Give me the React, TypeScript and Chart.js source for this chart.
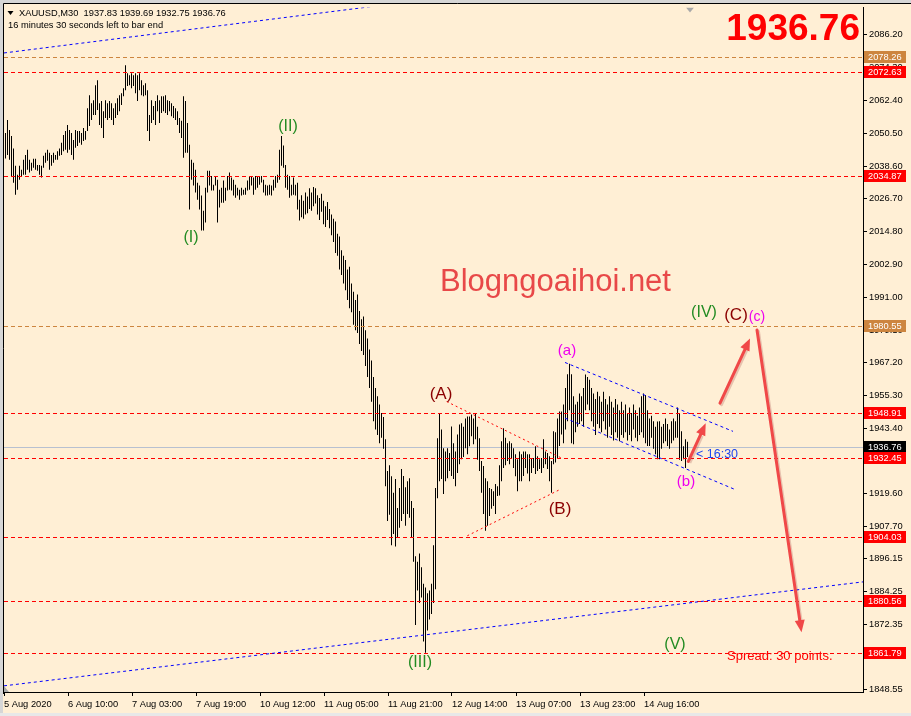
import React, { useEffect, useRef } from 'react';
import { Chart, registerables } from 'chart.js';
Chart.register(...registerables);

// ---- bar data (M30 highs / lows) ----
const HIGHS = [
  2050.6, 2055.3, 2051.7, 2049.5, 2045.0, 2038.7, 2035.4, 2038.7, 2037.2, 2040.9,
  2042.6, 2044.5, 2040.9, 2039.8, 2041.2, 2041.2, 2039.0, 2039.0, 2038.7, 2042.3,
  2043.4, 2044.5, 2043.4, 2042.6, 2043.4, 2042.6, 2044.0, 2045.0, 2047.0, 2049.9,
  2051.3, 2053.5, 2051.7, 2050.6, 2048.0, 2051.7, 2051.3, 2051.3, 2050.6, 2052.4,
  2051.3, 2059.6, 2064.3, 2061.4, 2062.5, 2067.9, 2069.7, 2061.4, 2062.2, 2058.5,
  2062.5, 2061.4, 2062.2, 2061.4, 2059.6, 2061.4, 2063.2, 2064.3, 2065.0, 2066.8,
  2075.2, 2072.3, 2071.5, 2072.3, 2071.5, 2072.3, 2071.5, 2072.3, 2069.7, 2067.9,
  2068.6, 2066.1, 2057.1, 2062.5, 2060.4, 2062.2, 2064.3, 2062.5, 2063.9, 2063.9,
  2064.3, 2062.5, 2062.2, 2061.4, 2060.4, 2059.6, 2058.5, 2056.0, 2055.0, 2063.9,
  2062.2, 2054.2, 2046.3, 2040.9, 2039.8, 2037.2, 2032.5, 2031.5, 2027.9, 2022.4,
  2030.7, 2036.9, 2036.9, 2035.0, 2031.8, 2035.0, 2033.6, 2030.0, 2030.7, 2033.3,
  2030.7, 2035.0, 2036.2, 2034.4, 2033.6, 2031.8, 2030.7, 2030.0, 2030.7, 2030.0,
  2030.7, 2033.3, 2035.0, 2035.0, 2034.4, 2035.0, 2035.0, 2035.0, 2035.0, 2033.6,
  2031.8, 2031.5, 2031.8, 2031.5, 2033.6, 2035.0, 2035.4, 2044.5, 2049.5, 2046.0,
  2039.0, 2035.4, 2035.0, 2031.8, 2034.4, 2031.8, 2032.5, 2026.4, 2028.0, 2026.0,
  2029.0, 2027.5, 2030.5, 2029.0, 2031.0, 2030.5, 2028.0, 2027.0, 2028.5, 2026.0,
  2024.0, 2025.5, 2023.0, 2021.0, 2019.5, 2018.5, 2014.0, 2013.0, 2008.0, 2006.0,
  2004.5, 2001.0, 2002.0, 1996.0, 1993.0, 1990.0, 1992.0, 1986.0, 1983.0, 1984.0,
  1979.0, 1976.0, 1972.0, 1968.0, 1962.0, 1958.0, 1955.0, 1952.0, 1949.0, 1947.5,
  1939.4, 1927.9, 1930.0, 1926.0, 1920.0, 1925.0, 1914.5, 1921.7, 1928.6, 1926.1,
  1922.0, 1924.2, 1925.3, 1917.0, 1914.5, 1897.0, 1895.0, 1898.0, 1893.0, 1887.0,
  1885.6, 1883.5, 1884.5, 1887.0, 1901.0, 1921.7, 1939.8, 1948.8, 1943.0, 1936.2,
  1935.0, 1936.2, 1934.4, 1944.1, 1938.0, 1935.0, 1941.2, 1944.8, 1945.2, 1944.0,
  1947.0, 1947.7, 1947.7, 1948.4, 1947.0, 1948.8, 1944.0, 1939.8, 1931.5, 1929.7,
  1925.3, 1924.2, 1921.7, 1921.4, 1920.6, 1923.2, 1922.4, 1930.0, 1938.7, 1943.4,
  1940.0, 1938.0, 1938.7, 1938.0, 1936.2, 1934.0, 1932.2, 1935.0, 1934.0, 1935.0,
  1935.0, 1934.0, 1934.0, 1932.6, 1932.6, 1936.9, 1933.3, 1932.2, 1932.6, 1939.4,
  1935.0, 1934.4, 1933.3, 1931.5, 1942.3, 1942.0, 1947.0, 1949.5, 1949.5, 1952.0,
  1958.0, 1963.0, 1966.8, 1963.0, 1955.0, 1952.0, 1953.0, 1956.0, 1955.0, 1958.0,
  1962.9, 1962.0, 1961.0, 1958.0, 1956.0, 1954.0, 1956.7, 1955.0, 1953.0, 1956.7,
  1954.0, 1952.0, 1955.0, 1953.0, 1951.0, 1954.0, 1952.0, 1950.0, 1953.0, 1950.0,
  1952.0, 1949.0, 1951.0, 1949.0, 1952.0, 1950.0, 1948.0, 1951.0, 1955.0, 1956.0,
  1955.5, 1950.0, 1947.0, 1948.0, 1946.0, 1944.0, 1945.9, 1946.0, 1944.0, 1945.0,
  1947.0, 1945.0, 1943.0, 1946.0, 1947.0, 1946.0, 1951.0, 1949.0, 1942.3, 1936.9,
  1939.4, 1938.5,
];
const LOWS = [
  2041.3, 2042.6, 2040.9, 2035.0, 2032.5, 2028.2, 2030.0, 2033.6, 2034.7, 2035.4,
  2035.4, 2037.2, 2036.2, 2036.9, 2038.0, 2037.2, 2036.9, 2035.4, 2034.4, 2038.0,
  2039.8, 2040.5, 2037.2, 2038.7, 2039.8, 2040.9, 2040.9, 2042.3, 2042.6, 2044.0,
  2044.5, 2043.4, 2044.5, 2042.6, 2040.9, 2045.2, 2045.9, 2047.0, 2046.3, 2047.7,
  2048.1, 2051.3, 2053.1, 2055.3, 2057.1, 2057.1, 2058.9, 2053.5, 2052.4, 2048.8,
  2056.0, 2055.3, 2056.0, 2055.3, 2053.5, 2056.0, 2057.1, 2058.5, 2060.7, 2063.9,
  2066.1, 2067.6, 2067.9, 2066.8, 2067.6, 2065.0, 2062.2, 2066.1, 2064.3, 2063.9,
  2064.3, 2051.3, 2047.7, 2054.2, 2055.3, 2053.5, 2058.5, 2054.2, 2057.8, 2058.5,
  2057.8, 2057.1, 2058.5, 2056.7, 2056.0, 2055.3, 2053.5, 2050.6, 2048.8, 2041.6,
  2043.4, 2043.4, 2022.8, 2033.6, 2031.5, 2029.0, 2026.4, 2022.8, 2015.2, 2015.2,
  2018.1, 2029.0, 2031.5, 2029.7, 2029.7, 2031.5, 2018.1, 2023.5, 2025.3, 2025.3,
  2026.0, 2029.7, 2030.0, 2029.7, 2027.9, 2027.1, 2027.9, 2026.4, 2027.9, 2028.2,
  2028.2, 2029.7, 2030.0, 2031.5, 2028.2, 2030.0, 2030.7, 2031.8, 2032.6, 2029.0,
  2027.9, 2027.9, 2028.2, 2027.9, 2029.7, 2030.7, 2032.5, 2033.6, 2038.7, 2038.0,
  2030.7, 2030.0, 2027.1, 2027.9, 2028.2, 2027.9, 2022.8, 2018.8, 2020.0, 2019.5,
  2021.0, 2021.5, 2023.0, 2022.4, 2024.0, 2025.0, 2021.0, 2019.0, 2022.0, 2017.5,
  2016.5, 2019.0, 2016.0, 2013.5, 2011.0, 2007.0, 2006.0, 2001.0, 1999.0, 1996.0,
  1993.5, 1990.0, 1987.0, 1985.5, 1981.0, 1979.0, 1978.0, 1974.0, 1971.5, 1970.0,
  1966.0, 1962.0, 1958.0, 1953.0, 1946.0, 1943.0, 1941.0, 1938.0, 1940.0, 1936.0,
  1922.4, 1909.8, 1912.0, 1901.0, 1905.0, 1900.5, 1903.7, 1907.3, 1909.8, 1912.3,
  1908.0, 1912.3, 1910.9, 1903.7, 1895.0, 1872.0, 1884.5, 1880.0, 1882.0, 1866.0,
  1861.9, 1870.0, 1874.0, 1876.0, 1880.0, 1885.0, 1918.0, 1924.2, 1925.0, 1919.6,
  1924.2, 1925.3, 1927.9, 1926.1, 1925.0, 1922.4, 1927.2, 1930.4, 1932.2, 1933.0,
  1936.2, 1934.0, 1936.9, 1940.5, 1937.6, 1939.4, 1932.0, 1927.9, 1920.0, 1912.3,
  1906.2, 1908.0, 1911.6, 1914.2, 1915.2, 1912.3, 1918.8, 1919.0, 1924.2, 1929.0,
  1930.0, 1931.5, 1930.4, 1932.6, 1929.0, 1926.0, 1920.6, 1924.2, 1924.2, 1926.1,
  1929.0, 1927.0, 1924.2, 1927.2, 1929.0, 1926.8, 1927.9, 1928.6, 1927.2, 1929.0,
  1930.4, 1928.6, 1924.2, 1920.0, 1930.4, 1931.0, 1932.6, 1937.0, 1941.2, 1938.0,
  1943.0, 1946.0, 1950.0, 1938.0, 1937.6, 1942.0, 1944.0, 1945.0, 1946.0, 1944.0,
  1950.0, 1952.0, 1950.0, 1946.0, 1944.0, 1941.0, 1945.0, 1943.4, 1942.0, 1946.0,
  1943.0, 1940.0, 1944.0, 1941.0, 1939.0, 1942.0, 1940.0, 1938.7, 1941.0, 1940.0,
  1942.0, 1939.0, 1941.0, 1938.7, 1943.0, 1940.0, 1938.7, 1941.0, 1942.0, 1940.0,
  1938.0, 1937.0, 1937.0, 1940.0, 1936.0, 1934.0, 1932.2, 1932.2, 1936.0, 1938.0,
  1938.7, 1937.0, 1936.0, 1938.0, 1939.0, 1940.0, 1940.0, 1932.0, 1931.5, 1932.2,
  1929.0, 1933.0,
];

// ---- axes ----
const X_TICK_BARS = [0, 32, 64, 96, 128, 160, 192, 224, 256, 288, 320];
const X_TICK_LABELS = [
  '5 Aug 2020', '6 Aug 10:00', '7 Aug 03:00', '7 Aug 19:00', '10 Aug 12:00', '11 Aug 05:00',
  '11 Aug 21:00', '12 Aug 14:00', '13 Aug 07:00', '13 Aug 23:00', '14 Aug 16:00',
];
const Y_TICKS = [
  2086.2, 2074.3, 2062.4, 2050.5, 2038.6, 2026.7, 2014.8, 2002.9, 1991.0, 1979.1, 1967.2,
  1955.3, 1943.4, 1931.5, 1919.6, 1907.7, 1896.15, 1884.25, 1872.35, 1860.45, 1848.55,
];
const PRICE_MIN = 1847.7;
const PRICE_MAX = 2096.1;
const SLOT_MIN = -0.75;
const SLOT_MAX = 428.75;

// ---- horizontal levels ----
const LEVELS = [2078.26, 2072.63, 2034.87, 1980.55, 1948.91, 1932.45, 1904.03, 1880.56, 1861.79];
const LEVEL_COLORS = ['#CD853F', '#FF0000', '#FF0000', '#CD853F', '#FF0000', '#FF0000', '#FF0000', '#FF0000', '#FF0000'];
const CURRENT_PRICE = 1936.76;
const HEADER_LINE1 = 'XAUUSD,M30  1937.83 1939.69 1932.75 1936.76';
const HEADER_LINE2 = '16 minutes 30 seconds left to bar end';

// ---- drawn objects: [bar1, price1, bar2, price2] ----
const BLUE_RAYS = [
  [0, 2079.7, 178, 2096.0],
  [0, 1850.0, 428, 1887.6],
];
const BLUE_SEGMENTS = [
  [279.75, 1967.3, 363.75, 1942.3],
  [279.75, 1947.1, 364.75, 1921.2],
];
const RED_SEGMENTS = [
  [220.6, 1953.1, 278.6, 1932.4],
  [230.9, 1904.4, 277.25, 1921.2],
];
const ARROWS = [
  [341.4, 1931.4, 350.1, 1945.2],
  [357.25, 1952.5, 372.25, 1976.0],
  [375.75, 1979.1, 398.0, 1869.4],
];
const WAVE_TEXT = ['(I)', '(II)', '(III)', '(IV)', '(V)', '(A)', '(B)', '(C)', '(a)', '(b)', '(c)'];
const WAVE_BAR = [92.75, 141.25, 207.25, 349.25, 334.75, 217.75, 277.25, 365.25, 280.75, 340.25, 375.75];
const WAVE_PRICE = [2012.7, 2052.8, 1858.5, 1985.3, 1865.0, 1955.7, 1914.1, 1984.5, 1971.5, 1923.9, 1983.8];
const WAVE_COLOR = ['#228B22', '#228B22', '#228B22', '#228B22', '#228B22', '#8B0000', '#8B0000', '#8B0000', '#EE00EE', '#EE00EE', '#EE00EE'];
const WAVE_SIZE = [16, 16, 16, 16, 16, 17, 17, 17, 15, 15, 14];
const WATERMARK = { text: 'Blogngoaihoi.net', bar: 217.25, price: 1996.5 };
const TIMER = { text: '< 16:30', bar: 345.25, price: 1934.0 };
const SPREAD = { text: 'Spread: 30 points.', bar: 360.75, price: 1860.7 };

const SMALL_FONT = '9.3px "Liberation Sans", Arial, sans-serif';

const overlay = {
  id: 'mt4overlay',
  beforeDraw(chart: any) {
    const { ctx, width, height } = chart;
    ctx.save();
    ctx.fillStyle = '#FFEFD5';
    ctx.fillRect(0, 0, width, height);
    ctx.fillStyle = '#D6D6D6';
    ctx.fillRect(0, 0, width, 3);
    ctx.fillRect(0, 0, 3, height);
    ctx.fillStyle = '#E8E8E8';
    ctx.fillRect(0, height - 3, width, 3);
    ctx.restore();
  },
  beforeDatasetsDraw(chart: any) {
    const { ctx, chartArea } = chart;
    const y = chart.scales.y;
    const py = Math.round(y.getPixelForValue(CURRENT_PRICE)) + 0.5;
    ctx.save();
    ctx.strokeStyle = '#B8C0D0';
    ctx.lineWidth = 1;
    ctx.beginPath();
    ctx.moveTo(chartArea.left, py);
    ctx.lineTo(chartArea.right, py);
    ctx.stroke();
    ctx.restore();
  },
  afterDatasetsDraw(chart: any) {
    const { ctx, chartArea } = chart;
    const xs = chart.scales.x;
    const ys = chart.scales.y;
    const X = (v: number) => xs.getPixelForValue(v);
    const Y = (v: number) => ys.getPixelForValue(v);
    ctx.save();
    ctx.beginPath();
    ctx.rect(chartArea.left, chartArea.top, chartArea.right - chartArea.left, chartArea.bottom - chartArea.top);
    ctx.clip();

    // horizontal levels
    ctx.lineWidth = 1;
    ctx.setLineDash([4, 3]);
    LEVELS.forEach((p, k) => {
      const py = Math.round(Y(p)) + 0.5;
      ctx.strokeStyle = LEVEL_COLORS[k];
      ctx.beginPath();
      ctx.moveTo(chartArea.left, py);
      ctx.lineTo(chartArea.right, py);
      ctx.stroke();
    });

    // blue rays (extended across the chart)
    ctx.strokeStyle = '#0000FF';
    ctx.setLineDash([3, 3]);
    BLUE_RAYS.forEach(([b1, p1, b2, p2]) => {
      const x1 = X(b1), y1 = Y(p1), x2 = X(b2), y2 = Y(p2);
      const slope = (y2 - y1) / (x2 - x1);
      const xa = chartArea.left, xb = chartArea.right;
      ctx.beginPath();
      ctx.moveTo(xa, y1 + (xa - x1) * slope);
      ctx.lineTo(xb, y1 + (xb - x1) * slope);
      ctx.stroke();
    });
    BLUE_SEGMENTS.forEach(([b1, p1, b2, p2]) => {
      ctx.beginPath();
      ctx.moveTo(X(b1), Y(p1));
      ctx.lineTo(X(b2), Y(p2));
      ctx.stroke();
    });
    ctx.strokeStyle = '#FF0000';
    ctx.setLineDash([2, 3]);
    RED_SEGMENTS.forEach(([b1, p1, b2, p2]) => {
      ctx.beginPath();
      ctx.moveTo(X(b1), Y(p1));
      ctx.lineTo(X(b2), Y(p2));
      ctx.stroke();
    });
    ctx.setLineDash([]);

    // arrows
    ARROWS.forEach(([b1, p1, b2, p2]) => {
      const x1 = X(b1), y1 = Y(p1), x2 = X(b2), y2 = Y(p2);
      const ang = Math.atan2(y2 - y1, x2 - x1);
      const L = 12, W = 5;
      const bx = x2 - L * Math.cos(ang), by = y2 - L * Math.sin(ang);
      ctx.strokeStyle = 'rgba(160,60,60,0.25)';
      ctx.lineWidth = 3;
      ctx.beginPath();
      ctx.moveTo(x1 + 1.5, y1 + 1.5);
      ctx.lineTo(bx + 1.5, by + 1.5);
      ctx.stroke();
      ctx.strokeStyle = '#F04848';
      ctx.fillStyle = '#F04848';
      ctx.lineWidth = 3;
      ctx.lineCap = 'round';
      ctx.beginPath();
      ctx.moveTo(x1, y1);
      ctx.lineTo(bx, by);
      ctx.stroke();
      ctx.beginPath();
      ctx.moveTo(x2, y2);
      ctx.lineTo(bx + W * Math.sin(ang), by - W * Math.cos(ang));
      ctx.lineTo(bx - W * Math.sin(ang), by + W * Math.cos(ang));
      ctx.closePath();
      ctx.fill();
    });

    // watermark
    ctx.fillStyle = '#E84848';
    ctx.font = '31px "Liberation Sans", Arial, sans-serif';
    ctx.textAlign = 'left';
    ctx.textBaseline = 'middle';
    ctx.fillText(WATERMARK.text, X(WATERMARK.bar), Y(WATERMARK.price));

    // wave labels
    ctx.textAlign = 'center';
    WAVE_TEXT.forEach((t, k) => {
      ctx.fillStyle = WAVE_COLOR[k];
      ctx.font = `${WAVE_SIZE[k]}px "Liberation Sans", Arial, sans-serif`;
      ctx.fillText(t, X(WAVE_BAR[k]), Y(WAVE_PRICE[k]));
    });

    // timer
    ctx.textAlign = 'left';
    ctx.fillStyle = '#2048F0';
    ctx.font = '12.5px "Liberation Sans", Arial, sans-serif';
    ctx.fillText(TIMER.text, X(TIMER.bar), Y(TIMER.price));

    // spread
    ctx.fillStyle = '#FF0000';
    ctx.font = '13px "Liberation Sans", Arial, sans-serif';
    ctx.fillText(SPREAD.text, X(SPREAD.bar), Y(SPREAD.price));

    // big price
    ctx.fillStyle = '#FF0000';
    ctx.font = 'bold 37px "Liberation Sans", Arial, sans-serif';
    ctx.textAlign = 'right';
    ctx.textBaseline = 'alphabetic';
    ctx.fillText(CURRENT_PRICE.toFixed(2), chartArea.right - 3, 40);

    // chart shift marker
    ctx.fillStyle = '#A8A8A8';
    const sx = X(342.25);
    ctx.beginPath();
    ctx.moveTo(sx - 4, chartArea.top);
    ctx.lineTo(sx + 4, chartArea.top);
    ctx.lineTo(sx, chartArea.top + 5);
    ctx.closePath();
    ctx.fill();
    ctx.beginPath();
    ctx.moveTo(chartArea.left, chartArea.bottom - 6);
    ctx.lineTo(chartArea.left + 5, chartArea.bottom);
    ctx.lineTo(chartArea.left, chartArea.bottom);
    ctx.closePath();
    ctx.fill();
    ctx.restore();
  },
  afterDraw(chart: any) {
    const { ctx, chartArea, width } = chart;
    const ys = chart.scales.y;
    ctx.save();
    // frame
    ctx.strokeStyle = '#000';
    ctx.lineWidth = 1;
    ctx.beginPath();
    ctx.moveTo(3.5, chartArea.bottom + 2);
    ctx.lineTo(3.5, 3.5);
    ctx.lineTo(width, 3.5);
    ctx.stroke();

    // price boxes
    ctx.font = SMALL_FONT;
    ctx.textAlign = 'left';
    ctx.textBaseline = 'middle';
    const box = (p: number, bg: string, fg: string) => {
      const py = Math.round(ys.getPixelForValue(p));
      ctx.fillStyle = bg;
      ctx.fillRect(chartArea.right + 1, py - 6, 42, 12);
      ctx.fillStyle = fg;
      ctx.fillText(p.toFixed(2), chartArea.right + 5, py + 0.5);
    };
    box(CURRENT_PRICE, '#000000', '#FFFFFF');
    LEVELS.forEach((p, k) => box(p, LEVEL_COLORS[k], '#FFFFFF'));

    // header
    ctx.fillStyle = '#000';
    ctx.beginPath();
    ctx.moveTo(7.5, 11);
    ctx.lineTo(13.5, 11);
    ctx.lineTo(10.5, 15);
    ctx.closePath();
    ctx.fill();
    ctx.fillText(HEADER_LINE1, 19, 13.5);
    ctx.fillText(HEADER_LINE2, 8, 25.5);
    ctx.restore();
  },
};

export default function App() {
  const ref = useRef<HTMLCanvasElement | null>(null);
  useEffect(() => {
    document.body.style.margin = '0';
    const canvas = ref.current;
    if (!canvas) return;
    const data = HIGHS.map((h, i) => ({ x: i, y: [LOWS[i], h] }));
    const chart = new Chart(canvas, {
      type: 'bar',
      data: {
        datasets: [
          {
            data: data as any,
            backgroundColor: '#000000',
            borderWidth: 0,
            barThickness: 1,
            inflateAmount: 0,
          } as any,
        ],
      },
      options: {
        animation: false,
        responsive: false,
        maintainAspectRatio: false,
        events: [],
        layout: { padding: { left: 4, top: 4, right: 0, bottom: 0 } },
        plugins: { legend: { display: false }, tooltip: { enabled: false } },
        scales: {
          x: {
            type: 'linear',
            min: SLOT_MIN,
            max: SLOT_MAX,
            offset: false,
            grid: { display: true, offset: false, drawOnChartArea: false, drawTicks: true, tickLength: 4, color: '#000' },
            border: { display: true, color: '#000', width: 1 },
            afterBuildTicks: (s: any) => {
              s.ticks = X_TICK_BARS.map((b) => ({ value: b - 0.75 }));
            },
            afterFit: (s: any) => {
              s.height = 24;
            },
            ticks: {
              autoSkip: false,
              maxRotation: 0,
              minRotation: 0,
              align: 'start',
              padding: 3,
              color: '#000',
              font: { family: '"Liberation Sans", Arial, sans-serif', size: 9.3 },
              callback: (v: any) => {
                const k = X_TICK_BARS.indexOf(Math.round(Number(v) + 0.75));
                return k >= 0 ? X_TICK_LABELS[k] : '';
              },
            },
          },
          y: {
            position: 'right',
            min: PRICE_MIN,
            max: PRICE_MAX,
            grid: { display: true, drawOnChartArea: false, drawTicks: true, tickLength: 4, color: '#000' },
            border: { display: true, color: '#000', width: 1 },
            afterBuildTicks: (s: any) => {
              s.ticks = Y_TICKS.map((v) => ({ value: v }));
            },
            afterFit: (s: any) => {
              s.width = 48;
            },
            ticks: {
              autoSkip: false,
              padding: 2,
              color: '#000',
              font: { family: '"Liberation Sans", Arial, sans-serif', size: 9.3 },
              callback: (v: any) => Number(v).toFixed(2),
            },
          },
        },
      } as any,
      plugins: [overlay],
    });
    return () => chart.destroy();
  }, []);
  return (
    <div style={{ width: 911, height: 716, position: 'relative' }}>
      <canvas ref={ref} width={911} height={716} style={{ display: 'block', width: 911, height: 716 }} />
    </div>
  );
}
